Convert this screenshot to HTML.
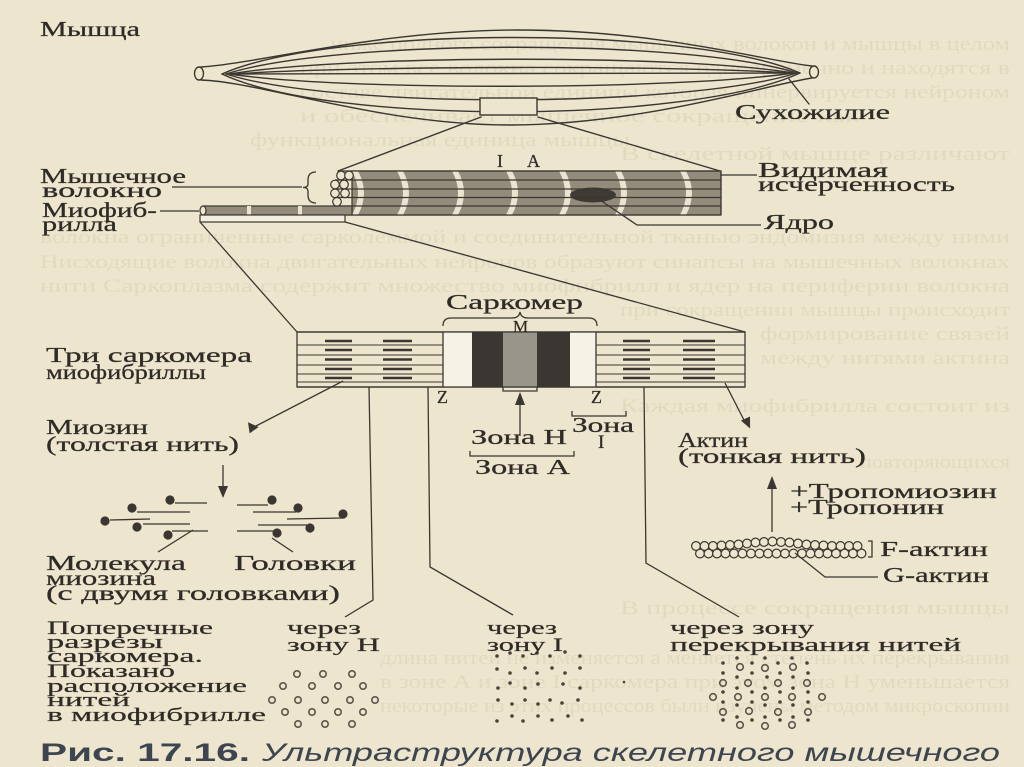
<!DOCTYPE html>
<html><head><meta charset="utf-8">
<style>
html,body{margin:0;padding:0;background:#ede5cd;}
svg{display:block;}
</style></head><body>
<svg width="1024" height="767" viewBox="0 0 1024 767" xmlns="http://www.w3.org/2000/svg">
<rect width="1024" height="767" fill="#ede5cd"/>

<!-- faint bleed-through text -->
<g font-family="Liberation Serif, 'DejaVu Serif', serif" font-size="19" fill="#e2dac0">
<text x="330" y="50" textLength="680" lengthAdjust="spacingAndGlyphs">ниже полного сокращения мышечных волокон и мышцы в целом</text>
<text x="300" y="74" textLength="710" lengthAdjust="spacingAndGlyphs">при этом все волокна сокращаются одновременно и находятся в</text>
<text x="300" y="98" textLength="710" lengthAdjust="spacingAndGlyphs">составе двигательной единицы которая иннервируется нейроном</text>
<text x="300" y="122" textLength="560" lengthAdjust="spacingAndGlyphs">и обеспечивает мышечное сокращение как</text>
<text x="250" y="146" textLength="380" lengthAdjust="spacingAndGlyphs">функциональная единица мышцы</text>
<text x="620" y="160" textLength="390" lengthAdjust="spacingAndGlyphs">В скелетной мышце различают</text>
<text x="40" y="243" textLength="970" lengthAdjust="spacingAndGlyphs">волокна ограниченные сарколеммой и соединительной тканью эндомизия между ними</text>
<text x="40" y="268" textLength="970" lengthAdjust="spacingAndGlyphs">Нисходящие волокна двигательных нейронов образуют синапсы на мышечных волокнах</text>
<text x="40" y="292" textLength="970" lengthAdjust="spacingAndGlyphs">нити Саркоплазма содержит множество миофибрилл и ядер на периферии волокна</text>
<text x="620" y="316" textLength="390" lengthAdjust="spacingAndGlyphs">при сокращении мышцы происходит</text>
<text x="760" y="340" textLength="250" lengthAdjust="spacingAndGlyphs">формирование связей</text>
<text x="760" y="364" textLength="250" lengthAdjust="spacingAndGlyphs">между нитями актина</text>
<text x="620" y="412" textLength="390" lengthAdjust="spacingAndGlyphs">Каждая миофибрилла состоит из</text>
<text x="860" y="468" textLength="150" lengthAdjust="spacingAndGlyphs">повторяющихся</text>
<text x="620" y="614" textLength="390" lengthAdjust="spacingAndGlyphs">В процессе сокращения мышцы</text>
<text x="380" y="664" textLength="630" lengthAdjust="spacingAndGlyphs">длина нитей не изменяется а меняется степень их перекрывания</text>
<text x="380" y="688" textLength="630" lengthAdjust="spacingAndGlyphs">в зоне А и зоне I саркомера при этом зона Н уменьшается</text>
<text x="380" y="712" textLength="630" lengthAdjust="spacingAndGlyphs">некоторые из этих процессов были изучены методом микроскопии</text>
</g>

<!-- MUSCLE -->
<g fill="none" stroke="#3b3631" stroke-width="1.4" stroke-linecap="round">
  <path d="M201,67 C262,63 380,30 518,30 C660,30 770,62 812,66"/>
  <path d="M201,80 C262,82 380,125 510,125 C640,125 770,84 812,78"/>
  <ellipse cx="199" cy="73.5" rx="4.5" ry="6.5" fill="#ede5cd"/>
  <ellipse cx="814" cy="72" rx="4.5" ry="6" fill="#ede5cd"/>
  <path d="M222,74 C330,26 690,25 800,73"/>
  <path d="M226,74 C335,39 685,38 797,73"/>
  <path d="M230,74 C340,55 680,54 793,73"/>
  <path d="M234,74 C345,66 675,65 789,73"/>
  <path d="M232,74 L791,73"/>
  <path d="M230,74 C340,91 680,90 793,73"/>
  <path d="M226,74 C335,109 685,108 797,73"/>
  <path d="M222,74 C330,125 690,124 800,73"/>
  <rect x="480" y="98" width="57" height="17" fill="#ede5cd"/>
  <path d="M789,79 L809,104"/>
  <path d="M481,117 L338,171"/>
  <path d="M538,117 L720,171"/>
</g>

<!-- FIBER -->
<g stroke="#3b3631" stroke-width="1.2">
  <rect x="352" y="171" width="369" height="44" fill="#938c7d"/>
  <g fill="#ebe4d0" stroke="none">
    <path d="M352,171 Q364,193 352,215 L358,215 Q370,193 358,171 Z"/>
    <path d="M397,171 Q409,193 397,215 L403,215 Q415,193 403,171 Z"/>
    <path d="M452,171 Q464,193 452,215 L458,215 Q470,193 458,171 Z"/>
    <path d="M506,171 Q518,193 506,215 L512,215 Q524,193 512,171 Z"/>
    <path d="M559,171 Q571,193 559,215 L565,215 Q577,193 565,171 Z"/>
    <path d="M615,171 Q627,193 615,215 L621,215 Q633,193 621,171 Z"/>
    <path d="M680,171 Q692,193 680,215 L686,215 Q698,193 686,171 Z"/>
  </g>
  <ellipse cx="593" cy="195" rx="23" ry="7.5" fill="#3f3a34" stroke="none"/>
  <g fill="none">
    <path d="M340,171 L721,171"/>
    <path d="M335,180 L721,180"/>
    <path d="M335,189 L721,189"/>
    <path d="M335,197.5 L721,197.5"/>
    <path d="M335,206 L721,206"/>
    <path d="M203,215 L721,215"/>
    <path d="M721,171 L721,215"/>
  </g>
  <!-- myofibril -->
  <rect x="203" y="206" width="149" height="9" fill="#938c7d"/>
  <rect x="247" y="206" width="4" height="9" fill="#ebe4d0" stroke="none"/>
  <rect x="298" y="206" width="4" height="9" fill="#ebe4d0" stroke="none"/>
  <rect x="200" y="215" width="145" height="7" fill="#f3eedf"/>
  <ellipse cx="203" cy="210.5" rx="3" ry="4.5" fill="#ede5cd"/>
  <g fill="#ede5cd">
    <circle cx="341" cy="175.5" r="4.3"/><circle cx="349" cy="175.5" r="4.3"/>
    <circle cx="335" cy="184.5" r="4.3"/><circle cx="344" cy="184.5" r="4.3"/>
    <circle cx="335" cy="193.3" r="4.3"/><circle cx="345" cy="193.3" r="4.3"/>
    <circle cx="337" cy="201.8" r="4.3"/>
  </g>
  <g fill="none" stroke-width="1.3">
    <path d="M316,172 Q308,172 308,180 L308,184 Q308,187.5 303,187.5 Q308,187.5 308,191 L308,195 Q308,203 316,203"/>
    <path d="M172,187 L302,187"/>
    <path d="M160,211 L199,211"/>
    <path d="M721,175 L757,175"/>
    <path d="M600,200 L637,225 L761,225"/>
    <path d="M200,222 L297,332"/>
    <path d="M345,222 L745,332"/>
  </g>
</g>

<!-- SARCOMERE BLOCK -->
<g stroke="#3b3631" stroke-width="1.3">
  <rect x="297" y="332" width="448" height="55" fill="#ede5cd"/>
  <rect x="443" y="332" width="29" height="55" fill="#f6f2e5" stroke="none"/>
  <rect x="570" y="332" width="26" height="55" fill="#f6f2e5" stroke="none"/>
  <rect x="472" y="332" width="31" height="55" fill="#3b3631" stroke="none"/>
  <rect x="537" y="332" width="33" height="55" fill="#3b3631" stroke="none"/>
  <rect x="503" y="332" width="34" height="55" fill="#9a958b" stroke="none"/>
  <path d="M297,332 L745,332 M297,387 L745,387 M443,332 L443,387 M596,332 L596,387" fill="none"/>
  <g fill="none" stroke-width="1">
    <path d="M297,345 L443,345 M297,355 L443,355 M297,365 L443,365 M297,374 L443,374 M297,382 L443,382"/>
    <path d="M596,345 L745,345 M596,355 L745,355 M596,365 L745,365 M596,374 L745,374 M596,382 L745,382"/>
  </g>
  <g fill="none" stroke-width="2.6">
    <path d="M325,341 L352,341 M383,341 L412,341 M325,350 L352,350 M383,350 L412,350 M325,359.5 L352,359.5 M383,359.5 L412,359.5 M325,369 L352,369 M383,369 L412,369 M325,378 L352,378 M383,378 L412,378"/>
    <path d="M623,341 L650,341 M683,341 L715,341 M623,350 L650,350 M683,350 L715,350 M623,359.5 L650,359.5 M683,359.5 L715,359.5 M623,369 L650,369 M683,369 L715,369 M623,378 L650,378 M683,378 L715,378"/>
  </g>
  <g fill="none" stroke-width="1.3">
    <path d="M443,326 Q443,318 451,318 L512,318 Q519,318 520,312 Q521,318 528,318 L589,318 Q597,318 597,326"/>
    <path d="M503,387 L503,391 L537,391 L537,387"/>
    <path d="M520,436 L520,402"/>
    <path d="M470,451 L470,456 L574,456 L574,451"/>
    <path d="M572,411 L572,416 L626,416 L626,411"/>
    <path d="M369,387 L373,600 L345,617"/>
    <path d="M428,387 L430,567 L513,615"/>
    <path d="M644,387 L646,563 L739,617"/>
    <path d="M343,381 L254,427"/>
    <path d="M725,383 L745,422"/>
    <path d="M223,465 L223,488"/>
    <path d="M772,532 L772,486"/>
  </g>
  <g fill="#3b3631" stroke="none">
    <path d="M520,392 L515,405 L525,405 Z"/>
    <path d="M247,431 L252,421 L258,431 Z" transform="rotate(-35 252 428)"/>
    <path d="M748,429 L743,418 L753,418 Z" transform="rotate(-25 748 424)"/>
    <path d="M223,498 L218,486 L228,486 Z"/>
    <path d="M772,476 L767,489 L777,489 Z"/>
  </g>
</g>

<!-- MYOSIN MOLECULES -->
<g stroke="#3b3631" stroke-width="1.3" fill="none">
  <path d="M175,503 L207,503 M137,512 L190,512 M110,520 L150,519 M143,524 L190,524 M172,531 L208,531"/>
  <path d="M237,505 L268,505 M253,512 L296,512 M287,519 L343,518 M258,525 L307,525 M237,531 L273,531"/>
  <path d="M158,552 L193,530 M272,538 L293,552"/>
</g>
<g fill="#3b3631">
  <circle cx="170" cy="500" r="4.6"/><circle cx="132" cy="508" r="4.6"/><circle cx="105" cy="521" r="4.6"/><circle cx="137" cy="527" r="4.6"/><circle cx="168" cy="535" r="4.6"/>
  <circle cx="272" cy="500" r="4.6"/><circle cx="298" cy="508" r="4.6"/><circle cx="343" cy="514" r="4.6"/><circle cx="310" cy="528" r="4.6"/><circle cx="277" cy="533" r="4.6"/>
</g>

<!-- F-ACTIN -->
<g fill="#ede5cd" stroke="#3b3631" stroke-width="1.2">
  <circle cx="700" cy="553.5" r="4.4"/><circle cx="708.5" cy="553.5" r="4.4"/><circle cx="717" cy="553.5" r="4.4"/><circle cx="725.5" cy="553.5" r="4.4"/><circle cx="734" cy="553.5" r="4.4"/><circle cx="742.5" cy="553.5" r="4.4"/><circle cx="751" cy="553.5" r="4.4"/><circle cx="759.5" cy="553.5" r="4.4"/><circle cx="768" cy="553.5" r="4.4"/><circle cx="776.5" cy="553.5" r="4.4"/><circle cx="785" cy="553.5" r="4.4"/><circle cx="793.5" cy="553.5" r="4.4"/><circle cx="802" cy="553.5" r="4.4"/><circle cx="810.5" cy="553.5" r="4.4"/><circle cx="819" cy="553.5" r="4.4"/><circle cx="827.5" cy="553.5" r="4.4"/><circle cx="836" cy="553.5" r="4.4"/><circle cx="844.5" cy="553.5" r="4.4"/><circle cx="853" cy="553.5" r="4.4"/><circle cx="861.5" cy="553.5" r="4.4"/>
  <circle cx="696" cy="546" r="4.4"/><circle cx="704.5" cy="546" r="4.4"/><circle cx="713" cy="546" r="4.4"/><circle cx="721.5" cy="545.5" r="4.4"/><circle cx="730" cy="545" r="4.4"/><circle cx="738.5" cy="544.5" r="4.4"/><circle cx="747" cy="543.5" r="4.4"/><circle cx="755.5" cy="542.5" r="4.4"/><circle cx="764" cy="542" r="4.4"/><circle cx="772.5" cy="541.5" r="4.4"/><circle cx="781" cy="542" r="4.4"/><circle cx="789.5" cy="542.5" r="4.4"/><circle cx="798" cy="543.5" r="4.4"/><circle cx="806.5" cy="544.5" r="4.4"/><circle cx="815" cy="545" r="4.4"/><circle cx="823.5" cy="545.5" r="4.4"/><circle cx="832" cy="546" r="4.4"/><circle cx="840.5" cy="546" r="4.4"/><circle cx="849" cy="546" r="4.4"/><circle cx="857.5" cy="546" r="4.4"/>
</g>
<g fill="none" stroke="#3b3631" stroke-width="1.3">
  <path d="M868,541 L872,541 L872,557 L868,557"/>
  <path d="M795,553 L825,577 L878,577"/>
</g>

<!-- CROSS SECTIONS -->
<g fill="none" stroke="#5d5548" stroke-width="1.6">
  <circle cx="297" cy="674" r="3.2"/><circle cx="323" cy="674" r="3.2"/><circle cx="352" cy="674" r="3.2"/>
  <circle cx="283" cy="686" r="3.2"/><circle cx="312" cy="686" r="3.2"/><circle cx="338" cy="686" r="3.2"/><circle cx="363" cy="686" r="3.2"/>
  <circle cx="272" cy="700" r="3.2"/><circle cx="298" cy="700" r="3.2"/><circle cx="325" cy="700" r="3.2"/><circle cx="350" cy="700" r="3.2"/><circle cx="375" cy="700" r="3.2"/>
  <circle cx="285" cy="712" r="3.2"/><circle cx="312" cy="712" r="3.2"/><circle cx="338" cy="712" r="3.2"/><circle cx="363" cy="712" r="3.2"/>
  <circle cx="298" cy="724" r="3.2"/><circle cx="325" cy="724" r="3.2"/><circle cx="352" cy="724" r="3.2"/>
  <circle cx="740" cy="667" r="3.3"/><circle cx="765" cy="668" r="3.3"/><circle cx="793" cy="667" r="3.3"/>
  <circle cx="723" cy="683" r="3.3"/><circle cx="748" cy="683" r="3.3"/><circle cx="778" cy="683" r="3.3"/><circle cx="807" cy="683" r="3.3"/>
  <circle cx="713" cy="697" r="3.3"/><circle cx="738" cy="697" r="3.3"/><circle cx="765" cy="697" r="3.3"/><circle cx="792" cy="697" r="3.3"/><circle cx="822" cy="697" r="3.3"/>
  <circle cx="723" cy="712" r="3.3"/><circle cx="749" cy="711" r="3.3"/><circle cx="778" cy="712" r="3.3"/><circle cx="808" cy="712" r="3.3"/>
  <circle cx="740" cy="725" r="3.3"/><circle cx="765" cy="726" r="3.3"/><circle cx="792" cy="725" r="3.3"/>
</g>
<g fill="#4a4339">
  <circle cx="497" cy="656" r="1.8"/><circle cx="510" cy="653" r="1.8"/><circle cx="523" cy="656" r="1.8"/><circle cx="537" cy="653" r="1.8"/><circle cx="550" cy="656" r="1.8"/><circle cx="565" cy="652" r="1.8"/><circle cx="580" cy="656" r="1.8"/>
  <circle cx="497" cy="669" r="1.8"/><circle cx="510" cy="673" r="1.8"/><circle cx="525" cy="668" r="1.8"/><circle cx="537" cy="673" r="1.8"/><circle cx="552" cy="668" r="1.8"/><circle cx="565" cy="673" r="1.8"/><circle cx="580" cy="668" r="1.8"/>
  <circle cx="498" cy="688" r="1.8"/><circle cx="510" cy="683" r="1.8"/><circle cx="525" cy="688" r="1.8"/><circle cx="538" cy="684" r="1.8"/><circle cx="563" cy="684" r="1.8"/><circle cx="580" cy="688" r="1.8"/>
  <circle cx="498" cy="700" r="1.8"/><circle cx="512" cy="704" r="1.8"/><circle cx="525" cy="700" r="1.8"/><circle cx="538" cy="704" r="1.8"/><circle cx="550" cy="700" r="1.8"/><circle cx="562" cy="703" r="1.8"/><circle cx="578" cy="700" r="1.8"/>
  <circle cx="497" cy="721" r="1.8"/><circle cx="512" cy="716" r="1.8"/><circle cx="523" cy="721" r="1.8"/><circle cx="538" cy="716" r="1.8"/><circle cx="552" cy="720" r="1.8"/><circle cx="568" cy="716" r="1.8"/><circle cx="582" cy="720" r="1.8"/>
  <circle cx="624" cy="682" r="1.3"/>
  <circle cx="723" cy="663" r="1.8"/><circle cx="737" cy="658" r="1.8"/><circle cx="752" cy="663" r="1.8"/><circle cx="765" cy="658" r="1.8"/><circle cx="778" cy="663" r="1.8"/><circle cx="792" cy="658" r="1.8"/><circle cx="807" cy="663" r="1.8"/>
  <circle cx="723" cy="673" r="1.8"/><circle cx="737" cy="677" r="1.8"/><circle cx="752" cy="673" r="1.8"/><circle cx="767" cy="677" r="1.8"/><circle cx="780" cy="673" r="1.8"/><circle cx="793" cy="677" r="1.8"/><circle cx="808" cy="673" r="1.8"/>
  <circle cx="723" cy="692" r="1.8"/><circle cx="737" cy="688" r="1.8"/><circle cx="752" cy="692" r="1.8"/><circle cx="765" cy="688" r="1.8"/><circle cx="780" cy="692" r="1.8"/><circle cx="793" cy="688" r="1.8"/><circle cx="808" cy="692" r="1.8"/>
  <circle cx="723" cy="702" r="1.8"/><circle cx="737" cy="705" r="1.8"/><circle cx="752" cy="702" r="1.8"/><circle cx="765" cy="705" r="1.8"/><circle cx="780" cy="702" r="1.8"/><circle cx="793" cy="705" r="1.8"/><circle cx="808" cy="702" r="1.8"/>
  <circle cx="723" cy="720" r="1.8"/><circle cx="737" cy="717" r="1.8"/><circle cx="752" cy="720" r="1.8"/><circle cx="765" cy="717" r="1.8"/><circle cx="780" cy="720" r="1.8"/><circle cx="793" cy="717" r="1.8"/><circle cx="808" cy="720" r="1.8"/>
</g>

<!-- LABELS -->
<g font-family="'Liberation Serif', 'DejaVu Serif', serif" font-size="21" fill="#2f2b27" stroke="#2f2b27" stroke-width="0.25">
  <text x="40" y="36" textLength="100" lengthAdjust="spacingAndGlyphs">Мышца</text>
  <text x="735" y="119" textLength="155" lengthAdjust="spacingAndGlyphs">Сухожилие</text>
  <text x="497" y="167" font-size="18">I</text>
  <text x="527" y="167" font-size="18">A</text>
  <text x="40" y="183" textLength="146" lengthAdjust="spacingAndGlyphs">Мышечное</text>
  <text x="42" y="197" textLength="120" lengthAdjust="spacingAndGlyphs">волокно</text>
  <text x="758" y="177" textLength="130" lengthAdjust="spacingAndGlyphs">Видимая</text>
  <text x="758" y="191" textLength="197" lengthAdjust="spacingAndGlyphs">исчерченность</text>
  <text x="42" y="217" textLength="115" lengthAdjust="spacingAndGlyphs">Миофиб-</text>
  <text x="42" y="231" textLength="75" lengthAdjust="spacingAndGlyphs">рилла</text>
  <text x="764" y="229" textLength="70" lengthAdjust="spacingAndGlyphs">Ядро</text>
  <text x="446" y="309" textLength="137" lengthAdjust="spacingAndGlyphs">Саркомер</text>
  <text x="513" y="332" font-size="17">M</text>
  <text x="46" y="362" textLength="206" lengthAdjust="spacingAndGlyphs">Три саркомера</text>
  <text x="46" y="379" textLength="160" lengthAdjust="spacingAndGlyphs">миофибриллы</text>
  <text x="437" y="403" font-size="18">Z</text>
  <text x="591" y="403" font-size="18">Z</text>
  <text x="572" y="432" textLength="62" lengthAdjust="spacingAndGlyphs">Зона</text>
  <text x="598" y="448" font-size="19">I</text>
  <text x="471" y="444" textLength="96" lengthAdjust="spacingAndGlyphs">Зона H</text>
  <text x="475" y="474" textLength="95" lengthAdjust="spacingAndGlyphs">Зона A</text>
  <text x="46" y="434" textLength="102" lengthAdjust="spacingAndGlyphs">Миозин</text>
  <text x="46" y="451" textLength="193" lengthAdjust="spacingAndGlyphs">(толстая нить)</text>
  <text x="678" y="447" textLength="70" lengthAdjust="spacingAndGlyphs">Актин</text>
  <text x="678" y="463" textLength="188" lengthAdjust="spacingAndGlyphs">(тонкая нить)</text>
  <text x="790" y="498" textLength="207" lengthAdjust="spacingAndGlyphs">+Тропомиозин</text>
  <text x="790" y="514" textLength="154" lengthAdjust="spacingAndGlyphs">+Тропонин</text>
  <text x="880" y="556" textLength="108" lengthAdjust="spacingAndGlyphs">F-актин</text>
  <text x="883" y="582" textLength="106" lengthAdjust="spacingAndGlyphs">G-актин</text>
  <text x="46" y="570" textLength="140" lengthAdjust="spacingAndGlyphs">Молекула</text>
  <text x="46" y="585" textLength="110" lengthAdjust="spacingAndGlyphs">миозина</text>
  <text x="46" y="600" textLength="294" lengthAdjust="spacingAndGlyphs">(с двумя головками)</text>
  <text x="234" y="570" textLength="122" lengthAdjust="spacingAndGlyphs">Головки</text>
</g>
<g font-family="'Liberation Serif', 'DejaVu Serif', serif" font-size="18.5" fill="#2f2b27" stroke="#2f2b27" stroke-width="0.2">
  <text x="47" y="634" textLength="166" lengthAdjust="spacingAndGlyphs">Поперечные</text>
  <text x="47" y="648" textLength="116" lengthAdjust="spacingAndGlyphs">разрезы</text>
  <text x="47" y="662" textLength="156" lengthAdjust="spacingAndGlyphs">саркомера.</text>
  <text x="47" y="677" textLength="128" lengthAdjust="spacingAndGlyphs">Показано</text>
  <text x="47" y="692" textLength="200" lengthAdjust="spacingAndGlyphs">расположение</text>
  <text x="47" y="706" textLength="83" lengthAdjust="spacingAndGlyphs">нитей</text>
  <text x="47" y="721" textLength="219" lengthAdjust="spacingAndGlyphs">в миофибрилле</text>
  <text x="287" y="634" textLength="74" lengthAdjust="spacingAndGlyphs">через</text>
  <text x="287" y="651" textLength="93" lengthAdjust="spacingAndGlyphs">зону H</text>
  <text x="487" y="634" textLength="70" lengthAdjust="spacingAndGlyphs">через</text>
  <text x="487" y="651" textLength="76" lengthAdjust="spacingAndGlyphs">зону I</text>
  <text x="670" y="634" textLength="144" lengthAdjust="spacingAndGlyphs">через зону</text>
  <text x="670" y="651" textLength="291" lengthAdjust="spacingAndGlyphs">перекрывания нитей</text>
</g>

<!-- CAPTION -->
<text x="40" y="761" font-family="'Liberation Sans', 'DejaVu Sans', sans-serif" font-weight="bold" font-size="25" fill="#3d4550" textLength="210" lengthAdjust="spacingAndGlyphs">Рис. 17.16.</text>
<text x="262" y="761" font-family="'Liberation Sans', 'DejaVu Sans', sans-serif" font-style="italic" font-size="25" fill="#3d4550" textLength="738" lengthAdjust="spacingAndGlyphs">Ультраструктура скелетного мышечного</text>
</svg>
</body></html>
